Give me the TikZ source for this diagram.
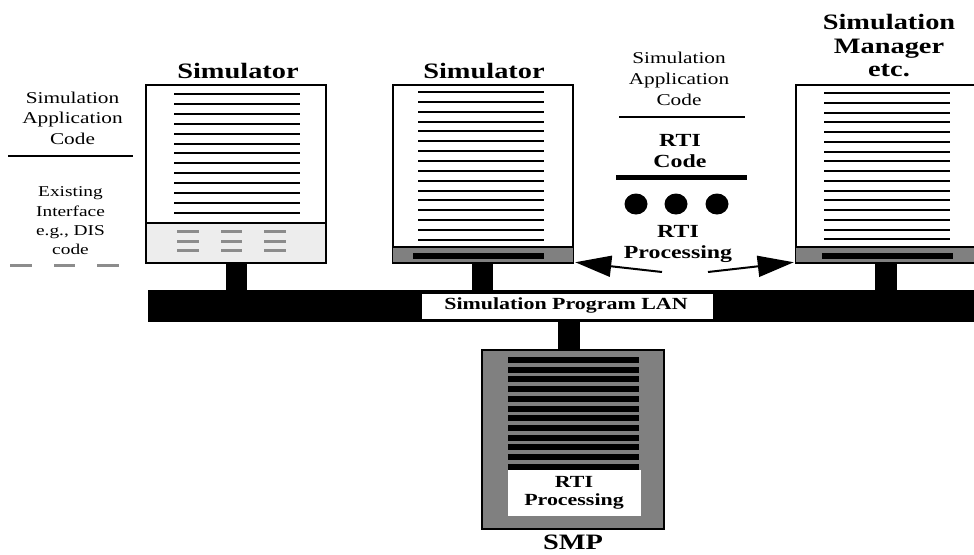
\documentclass[tikz,border=0pt]{standalone}
\usepackage{fontspec}
\setmainfont[FakeStretch=1.29]{Liberation Serif}
\usetikzlibrary{arrows.meta}

\definecolor{bandgray}{gray}{0.5}
\definecolor{panelgray}{gray}{0.93}
\definecolor{dashgray}{gray}{0.55}

\tikzset{
  lbl/.style={anchor=base,inner sep=0pt},
  titletxt/.style={lbl,font=\bfseries\fontsize{22}{24}\selectfont},
  plaintxt/.style={lbl,font=\fontsize{16.5}{20}\selectfont},
  smalltxt/.style={lbl,font=\fontsize{15}{18}\selectfont},
  rtitxt/.style={lbl,font=\bfseries\fontsize{18.5}{21}\selectfont},
  boldtxt/.style={lbl,font=\bfseries\fontsize{17}{20}\selectfont},
  simbox/.style={draw,line width=2.5pt,inner sep=0pt,minimum height=178pt},
  codeline/.style={line width=2pt},
  graydash/.style={line width=3pt,draw=dashgray},
  rtiarrow/.style={line width=2pt,-{Triangle[length=36pt,width=21pt]}},
}

\begin{document}
\begin{tikzpicture}[x=1pt,y=-1pt]
\useasboundingbox (0,0) rectangle (974,554);

% ---------- left simulator with existing interface ----------
\fill[panelgray] (146,223) rectangle (326,263);
\node[simbox,minimum width=180pt] (simA) at (236,174) {};
\draw[line width=2.5pt] (146,223) -- (326,223);
\foreach \k in {0,...,12}
  \draw[codeline] (174,{94+9.9*\k}) -- (300,{94+9.9*\k});
\foreach \r in {231,241,250}
  \foreach \a/\b in {177/199,221/242,264/286}
    \draw[graydash] (\a,\r) -- (\b,\r);
\fill (226,263) rectangle (247,290);
\node[titletxt] (titleA) at (238,78) {Simulator};

% legend on the left
\node[plaintxt] (legA1) at (72.5,103) {Simulation};
\node[plaintxt] (legA2) at (72.5,123.5) {Application};
\node[plaintxt] (legA3) at (72.5,144) {Code};
\draw[line width=2pt] (8,156) -- (133,156);
\node[smalltxt] (legB1) at (70.5,196.7) {Existing};
\node[smalltxt] (legB2) at (70.5,216) {Interface};
\node[smalltxt] (legB3) at (70.5,235.7) {e.g., DIS};
\node[smalltxt] (legB4) at (70.5,254.3) {code};
\foreach \a/\b in {10/32,54/75,97/119}
  \draw[graydash] (\a,265) -- (\b,265);

% ---------- middle simulator with RTI ----------
\node[simbox,minimum width=180pt] (simB) at (483,174) {};
\fill[bandgray] (393,247) rectangle (573,263);
\draw[line width=2pt] (393,247) -- (573,247);
\draw[line width=2.5pt] (393,263) -- (573,263);
\fill (413,253) rectangle (544,259);
\foreach \k in {0,...,15}
  \draw[codeline] (418,{92+9.85*\k}) -- (544,{92+9.85*\k});
\fill (472,263) rectangle (493,290);
\node[titletxt] (titleB) at (484,78) {Simulator};

% ---------- right simulator (manager) ----------
\node[simbox,minimum width=182pt] (simC) at (887,174) {};
\fill[bandgray] (796,247) rectangle (978,263);
\draw[line width=2pt] (796,247) -- (978,247);
\draw[line width=2.5pt] (796,263) -- (978,263);
\fill (822,253) rectangle (953,259);
\foreach \k in {0,...,15}
  \draw[codeline] (824,{93+9.75*\k}) -- (950,{93+9.75*\k});
\fill (875,263) rectangle (897,290);
\node[titletxt] (titleC1) at (889,29) {Simulation};
\node[titletxt] (titleC2) at (889,53) {Manager};
\node[titletxt] (titleC3) at (889,76) {etc.};

% ---------- central legend: layers of a federate ----------
\node[plaintxt] (legC1) at (679,63.3) {Simulation};
\node[plaintxt] (legC2) at (679,84.5) {Application};
\node[plaintxt] (legC3) at (679,105) {Code};
\draw[line width=1.8pt] (619,117) -- (745,117);
\node[rtitxt] (legD1) at (680,146) {RTI};
\node[rtitxt] (legD2) at (680,167) {Code};
\draw[line width=5pt] (616,177) -- (747,177);
\foreach \cx in {636,676,717}
  \fill (\cx,204) ellipse [x radius=11.5, y radius=10.5];
\node[rtitxt] (legE1) at (678,237) {RTI};
\node[rtitxt] (legE2) at (678,258) {Processing};

\coordinate (tailL) at (662,272);
\coordinate (tailR) at (708,272);
\draw[rtiarrow] (tailL) -- ([xshift=1pt,yshift=2pt]simB.south east);
\draw[rtiarrow] (tailR) -- ([xshift=-1pt,yshift=2pt]simC.south west);

% ---------- LAN ----------
\fill (148,290) rectangle (978,322);
\node[fill=white,inner sep=0pt,minimum width=291pt,minimum height=25pt] (lanbox) at (567.5,306.5) {};
\node[boldtxt] (lantext) at (566,309.5) {Simulation Program LAN};
\fill (558,322) rectangle (580,350);

% ---------- SMP ----------
\node[draw,line width=2pt,fill=bandgray,inner sep=0pt,minimum width=182pt,minimum height=179pt] (smp) at (573,439.5) {};
\foreach \k in {0,...,11}
  \fill (508,{357+9.7*\k}) rectangle (639,{363+9.7*\k});
\node[fill=white,inner sep=0pt,minimum width=133pt,minimum height=46pt] (smpbox) at (574.5,493) {};
\node[boldtxt] (smpR1) at (574,487) {RTI};
\node[boldtxt] (smpR2) at (574,505) {Processing};
\node[titletxt,text depth=0pt] (smplabel) at (573,549.5) {SMP};
\end{tikzpicture}
\end{document}
